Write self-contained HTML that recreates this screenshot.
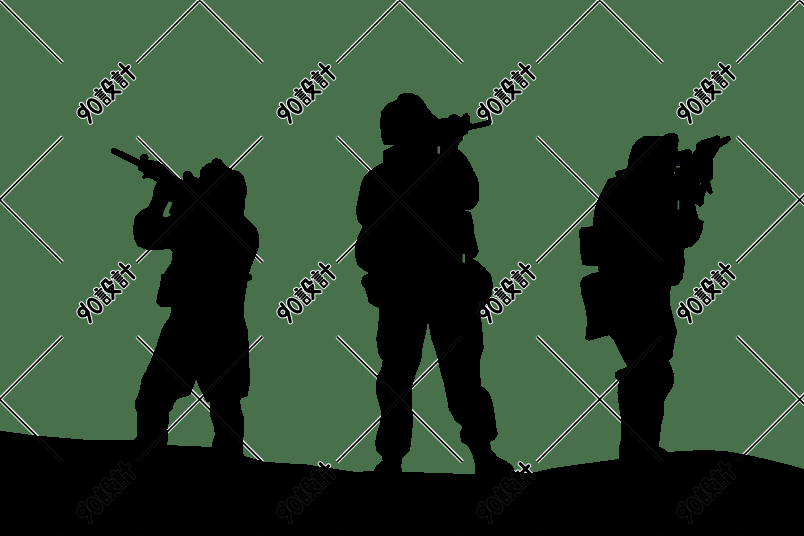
<!DOCTYPE html>
<html><head><meta charset="utf-8"><title>soldiers silhouette</title>
<style>
html,body{margin:0;padding:0;background:#47704b;}
body{width:804px;height:536px;overflow:hidden;font-family:"Liberation Sans",sans-serif;}
svg{display:block;}
</style></head><body>
<svg width="804" height="536" viewBox="0 0 804 536">
<defs>
<g id="wm" fill="none" stroke-linecap="round" stroke-linejoin="round">
<path d="M-23.4 -10.2 L-24.2 -4.5 L-24.3 0 L-29.8 8.8 M-24.1 -3.5 A4 4 0 1 0 -32.1 -3.5 A4 4 0 1 0 -24.1 -3.5 M-10.8 0.4 A4.4 7.7 0 1 0 -19.6 0.4 A4.4 7.7 0 1 0 -10.8 0.4 M3.9 -3.0 L5.8 -10.2 L10.7 -10.2 L10.7 -4.8 L13.2 -4.6 M4.0 -1.2 L11.7 -1.2 L2.6 8.3 M5 0.8 L12.6 8.4 M27 -3.5 L36.6 -3.5 M32.2 -11 L32.2 8.2" stroke="#fff" stroke-width="5.0"/>
<path d="M-7 -7.0 L1.2 -7.0 M-5.8 -4.6 L0 -4.6 M-5.8 -2.2 L0 -2.2 M-5.8 0.2 L0 0.2 M-5.6 2.7 L-0.4 2.7 L-0.4 8.0 L-5.6 8.0 Z M17 -7.0 L25.2 -7.0 M18.2 -4.6 L24 -4.6 M18.2 -2.2 L24 -2.2 M18.2 0.2 L24 0.2 M18.4 2.7 L23.6 2.7 L23.6 8.0 L18.4 8.0 Z" stroke="#fff" stroke-width="3.9"/>
<path d="M-3.4 -10.1 L-2.6 -9.7 M20.6 -10.1 L21.4 -9.7" stroke="#fff" stroke-width="5.0"/>
<path d="M-23.4 -10.2 L-24.2 -4.5 L-24.3 0 L-29.8 8.8 M-24.1 -3.5 A4 4 0 1 0 -32.1 -3.5 A4 4 0 1 0 -24.1 -3.5 M-10.8 0.4 A4.4 7.7 0 1 0 -19.6 0.4 A4.4 7.7 0 1 0 -10.8 0.4 M3.9 -3.0 L5.8 -10.2 L10.7 -10.2 L10.7 -4.8 L13.2 -4.6 M4.0 -1.2 L11.7 -1.2 L2.6 8.3 M5 0.8 L12.6 8.4 M27 -3.5 L36.6 -3.5 M32.2 -11 L32.2 8.2" stroke="#000" stroke-width="3.1"/>
<path d="M-7 -7.0 L1.2 -7.0 M-5.8 -4.6 L0 -4.6 M-5.8 -2.2 L0 -2.2 M-5.8 0.2 L0 0.2 M-5.6 2.7 L-0.4 2.7 L-0.4 8.0 L-5.6 8.0 Z M17 -7.0 L25.2 -7.0 M18.2 -4.6 L24 -4.6 M18.2 -2.2 L24 -2.2 M18.2 0.2 L24 0.2 M18.4 2.7 L23.6 2.7 L23.6 8.0 L18.4 8.0 Z" stroke="#000" stroke-width="2.0"/>
<path d="M-3.4 -10.1 L-2.6 -9.7 M20.6 -10.1 L21.4 -9.7" stroke="#000" stroke-width="3.1"/>
</g>
<g id="wmall">
<path id="xw" d="M-63.10 -62.60L62.50 63.00M-63.10 63.00L62.50 -62.60 M-63.10 137.00L62.50 262.60M-63.10 262.60L62.50 137.00 M-63.10 336.60L62.50 462.20M-63.10 462.20L62.50 336.60 M-63.10 536.20L62.50 661.80M-63.10 661.80L62.50 536.20 M136.90 -62.60L262.50 63.00M136.90 63.00L262.50 -62.60 M136.90 137.00L262.50 262.60M136.90 262.60L262.50 137.00 M136.90 336.60L262.50 462.20M136.90 462.20L262.50 336.60 M136.90 536.20L262.50 661.80M136.90 661.80L262.50 536.20 M336.90 -62.60L462.50 63.00M336.90 63.00L462.50 -62.60 M336.90 137.00L462.50 262.60M336.90 262.60L462.50 137.00 M336.90 336.60L462.50 462.20M336.90 462.20L462.50 336.60 M336.90 536.20L462.50 661.80M336.90 661.80L462.50 536.20 M536.90 -62.60L662.50 63.00M536.90 63.00L662.50 -62.60 M536.90 137.00L662.50 262.60M536.90 262.60L662.50 137.00 M536.90 336.60L662.50 462.20M536.90 462.20L662.50 336.60 M536.90 536.20L662.50 661.80M536.90 661.80L662.50 536.20 M736.90 -62.60L862.50 63.00M736.90 63.00L862.50 -62.60 M736.90 137.00L862.50 262.60M736.90 262.60L862.50 137.00 M736.90 336.60L862.50 462.20M736.90 462.20L862.50 336.60 M736.90 536.20L862.50 661.80M736.90 661.80L862.50 536.20 M936.90 -62.60L1062.50 63.00M936.90 63.00L1062.50 -62.60 M936.90 137.00L1062.50 262.60M936.90 262.60L1062.50 137.00 M936.90 336.60L1062.50 462.20M936.90 462.20L1062.50 336.60 M936.90 536.20L1062.50 661.80M936.90 661.80L1062.50 536.20" fill="none" stroke="#fff" stroke-width="3.8" stroke-linecap="butt" transform="translate(0 -0.25)"/>
<path id="xb" d="M-63.10 -62.60L62.50 63.00M-63.10 63.00L62.50 -62.60 M-63.10 137.00L62.50 262.60M-63.10 262.60L62.50 137.00 M-63.10 336.60L62.50 462.20M-63.10 462.20L62.50 336.60 M-63.10 536.20L62.50 661.80M-63.10 661.80L62.50 536.20 M136.90 -62.60L262.50 63.00M136.90 63.00L262.50 -62.60 M136.90 137.00L262.50 262.60M136.90 262.60L262.50 137.00 M136.90 336.60L262.50 462.20M136.90 462.20L262.50 336.60 M136.90 536.20L262.50 661.80M136.90 661.80L262.50 536.20 M336.90 -62.60L462.50 63.00M336.90 63.00L462.50 -62.60 M336.90 137.00L462.50 262.60M336.90 262.60L462.50 137.00 M336.90 336.60L462.50 462.20M336.90 462.20L462.50 336.60 M336.90 536.20L462.50 661.80M336.90 661.80L462.50 536.20 M536.90 -62.60L662.50 63.00M536.90 63.00L662.50 -62.60 M536.90 137.00L662.50 262.60M536.90 262.60L662.50 137.00 M536.90 336.60L662.50 462.20M536.90 462.20L662.50 336.60 M536.90 536.20L662.50 661.80M536.90 661.80L662.50 536.20 M736.90 -62.60L862.50 63.00M736.90 63.00L862.50 -62.60 M736.90 137.00L862.50 262.60M736.90 262.60L862.50 137.00 M736.90 336.60L862.50 462.20M736.90 462.20L862.50 336.60 M736.90 536.20L862.50 661.80M736.90 661.80L862.50 536.20 M936.90 -62.60L1062.50 63.00M936.90 63.00L1062.50 -62.60 M936.90 137.00L1062.50 262.60M936.90 262.60L1062.50 137.00 M936.90 336.60L1062.50 462.20M936.90 462.20L1062.50 336.60 M936.90 536.20L1062.50 661.80M936.90 661.80L1062.50 536.20" fill="none" stroke="#000" stroke-width="1.7" stroke-linecap="butt"/>
<use href="#wm" transform="translate(105.20 95.00) rotate(-45)"/>
<use href="#wm" transform="translate(105.20 294.60) rotate(-45)"/>
<use href="#wm" transform="translate(105.20 494.20) rotate(-45)"/>
<use href="#wm" transform="translate(305.20 95.00) rotate(-45)"/>
<use href="#wm" transform="translate(305.20 294.60) rotate(-45)"/>
<use href="#wm" transform="translate(305.20 494.20) rotate(-45)"/>
<use href="#wm" transform="translate(505.20 95.00) rotate(-45)"/>
<use href="#wm" transform="translate(505.20 294.60) rotate(-45)"/>
<use href="#wm" transform="translate(505.20 494.20) rotate(-45)"/>
<use href="#wm" transform="translate(705.20 95.00) rotate(-45)"/>
<use href="#wm" transform="translate(705.20 294.60) rotate(-45)"/>
<use href="#wm" transform="translate(705.20 494.20) rotate(-45)"/>
<use href="#wm" transform="translate(905.20 95.00) rotate(-45)"/>
<use href="#wm" transform="translate(905.20 294.60) rotate(-45)"/>
<use href="#wm" transform="translate(905.20 494.20) rotate(-45)"/>
</g>
</defs>
<rect width="804" height="536" fill="#47704b"/>
<use href="#wmall"/>
<g id="sil" shape-rendering="crispEdges">
<polygon points="0,430.75 37.5,435.75 82.5,439.5 133.75,439.5 167,445 211.75,447 243.75,455.75 263.5,461.5 283.5,463.25 303.5,464 318.5,466.5 336,469 356,472 373.5,470.75 402,471.75 475,474.25 515,472 530,473.25 552.5,468.25 577.5,464.5 600,461.5 618.75,459 667.5,452 685.5,450.75 708,450 728,451.5 748,455 768,459.5 788,464.5 804,469 804,536 0,536" fill="#000"/>
<polygon points="111.25,148.75 113.75,147.75 116.9,148.75 140,160 140.6,155.6 143.1,154 146.9,154.4 148.75,156.9 148.1,160 155,160.6 158.75,161.25 167.5,168.75 175,176.25 182.5,180 183.1,173.75 185.6,171.25 190,171.25 192.5,173.75 193.1,176.25 197.5,177.5 199.4,178.75 200,171.25 202.5,167.5 205,165.6 207.5,163.75 211.25,162.5 212.5,159.5 216.25,158 221.25,159.5 223.75,163.75 226.25,166.25 232.5,169.5 238.75,171.25 243.75,176.25 246.25,183.75 247.5,192.5 245,200 244.5,208.75 243.75,215 250,221.25 256.25,227.5 259.5,236.25 258.75,247.5 255,257.5 250,270 248.75,274 251.25,274 252.5,279 247.5,281.5 245.5,294 243.75,306.5 244.5,319 247.5,329 248.75,344 248.75,359 250,374 249.5,386.5 247.5,396.5 241.25,398.5 240,401.5 241.25,408 241.25,409.5 243.75,417 243.75,434.5 242.5,444.5 243.75,455.75 243.75,470 211.75,470 211.75,447 212.5,442 215,434.5 213.75,427 210.5,417 210,402 206.25,401.5 202.5,394 198.75,386.5 196.25,379 193.75,386.5 190,395.25 177.5,399 173.75,404 172.5,409.5 168.75,412 169.5,419.5 167.5,429.5 168,439.5 167,445 167,470 133.75,470 133.75,439.5 137.5,435.75 137,427 137.5,413.25 135,408.25 134.5,402 136.25,399 140,389 141.25,379 146.25,370.25 151.25,359 156.25,346.5 160,334 163.75,325.25 170,316.5 171.25,306.5 166.25,306.5 160,307 156.25,302.75 157,295.25 160,285.25 161.25,274 163.75,274 166.25,270 171.25,262.5 172.5,252.5 168.75,248.75 160,250 147.5,250 137.5,246.25 133.75,238.75 133,227.5 135,216.25 140,211.25 148.75,206.25 152.5,197.5 153.1,192.5 153.75,188.1 156.25,184.4 156.9,181.9 152.5,179.4 148.75,178.1 143.1,178.75 141.9,176.9 143.75,175 143.1,171.9 140,171.25 138.1,170 137.5,166.25 112.5,153.75 111,152.5" fill="#000"/>
<polygon points="398.75,95 405,92.5 411.25,93 417.5,95.5 423.75,101.25 427.5,107.5 432.5,113.75 438.75,118.75 447.5,117.5 452.5,113.75 457.5,115 461.25,117.5 463.75,113.75 467.5,113 469.5,116.25 469.5,122.5 472.5,123.75 487.5,120 491.25,121.25 491.25,124.5 487.5,126.25 472.5,129.5 468.75,130 467.5,133.75 463.75,135.5 462.5,140 458.75,143.75 457.5,148.75 465,155 471.25,165 473.1,170 476.9,176.25 478.75,182.5 479.1,191.25 478.75,200 476.9,205 473.75,208.1 471.25,209.4 465,210.6 470.6,211.9 471.9,216.25 473.1,222.5 474.4,228.75 473.75,231.5 476.25,241.5 478.75,251.5 476.25,256.5 472.5,259 477.5,261.5 485,267.75 491.25,275.25 493,284 492,294 486.25,304 480,310.25 481.25,319 482.5,331.5 483.75,348 480,360.5 480,373 481.25,385.5 488.75,391.75 492.5,401.75 495,415.5 496.25,426.75 498,434.25 495,439.25 490,441.75 491.25,449.25 497.5,456.75 507.5,461.75 512.5,465.5 515,471.75 515,485 475,485 475,474.25 475,465.5 472.5,455.5 467.5,445.5 461.25,441.75 459.5,433 462.5,426.75 455,420.5 448.75,409.25 446.25,395.5 443.75,383 440,370.5 437.5,358 434.5,348 431.25,339 430,331.5 428,321.5 426.25,331.5 423.75,341.5 422.5,348 421.25,360.5 416.25,373 412.5,385.5 412,398 412.5,413 412.5,428 411.25,440.5 410,450.5 402.5,458 401.25,465.5 402,471.75 402,485 373.75,485 373.75,470.5 376.25,465.5 382.5,460.5 381.25,455.5 376.25,450.5 375,443 377,433 380,423 381.25,413 378.75,403 376.25,394.25 375.75,385.5 377.5,375.5 381.25,369.25 382.5,360.5 378.75,355.5 377.5,348 376.25,339 377.5,331.5 378.75,319 378.75,307.75 375,306.5 368.75,302.75 367.5,296.5 365,289 360.5,282.75 362.5,276.5 368.75,272.75 363.75,270.25 357.5,265.25 355,256.5 355,246.5 357.5,236.5 362.5,226.5 357.5,220.25 356.25,214 356.25,207.5 358.75,195 361.25,182.5 365,175 372.5,168.75 382.5,162.5 382.5,155 383.75,150.5 393.75,145.5 383.75,145 381.25,137.5 380,122.5 381.25,111.25 387.5,103.75 396.25,100" fill="#000"/>
<polygon points="627.5,166.25 628.75,157.5 632.5,146.25 637.5,140 643.75,136.25 655,135.5 662.5,136.25 666.25,133.75 673.75,132.5 678,135 678.75,141.25 677.5,147.5 678.75,151.25 682.5,150 687.5,148.75 691.25,150 692.5,153.75 696.25,148.75 696.25,143.75 701.25,140.5 708.75,138 713.75,137 716.25,135 719.5,136.25 720.5,138.75 726.25,136.25 730,136.25 731.25,139.5 726.25,143.75 720,147.5 716.25,153.75 712.5,160 713,170 712.5,178.75 710,181.25 711.25,186.25 713,192.5 710,195 706.25,191.25 703.75,197.5 703.75,203.75 700,207 695,203.75 696.25,210 698.75,218.75 703.75,221.25 702.5,230 698.75,240 692.5,246.25 683.75,248.75 683.75,254 685,261.5 683.75,271.5 682.5,279 677.5,285.25 671.25,286.5 669.5,294 670,304 672.5,314 675,324 677.5,332.75 675.5,337.75 673.75,346.5 672.5,356.5 668.75,360.25 671.25,366.5 673.75,374 674.5,381.5 672.5,387.5 667.5,395 663.75,402.5 663.75,415 661.25,425 660,437.5 658.75,446.25 663.75,448.75 667.5,452 667.5,470 619.5,470 619.5,458.75 618.75,447.5 621.25,437.5 621.25,420 618.75,405 617.5,392.5 618.75,381.5 615.5,377.75 615,372.75 618.75,370.25 627.5,366.5 623.75,360.25 618.75,350.25 613.75,340.25 608.75,335.25 600,337.75 588.75,341 585,339 586.25,331.5 587,319 585,306.5 581.25,294 580,282.75 582.5,277.75 591.25,273.5 598.75,272 597.5,266.5 582.5,265.25 580.5,254 580,242.5 578.75,231.25 581.25,227.5 592.5,226.25 593,220 594.5,210 596.25,202.5 600,195 603.75,187.5 607.5,180 611.25,178 616.25,176.25 614.5,173 616.25,170.75 620,170 626.25,168.75" fill="#000"/>
</g>
<g opacity="0.06"><use href="#xw"/><use href="#xb"/></g>
<g opacity="0.09"><use href="#wm" transform="translate(105.20 95.00) rotate(-45)"/>
<use href="#wm" transform="translate(105.20 294.60) rotate(-45)"/>
<use href="#wm" transform="translate(105.20 494.20) rotate(-45)"/>
<use href="#wm" transform="translate(305.20 95.00) rotate(-45)"/>
<use href="#wm" transform="translate(305.20 294.60) rotate(-45)"/>
<use href="#wm" transform="translate(305.20 494.20) rotate(-45)"/>
<use href="#wm" transform="translate(505.20 95.00) rotate(-45)"/>
<use href="#wm" transform="translate(505.20 294.60) rotate(-45)"/>
<use href="#wm" transform="translate(505.20 494.20) rotate(-45)"/>
<use href="#wm" transform="translate(705.20 95.00) rotate(-45)"/>
<use href="#wm" transform="translate(705.20 294.60) rotate(-45)"/>
<use href="#wm" transform="translate(705.20 494.20) rotate(-45)"/>
<use href="#wm" transform="translate(905.20 95.00) rotate(-45)"/>
<use href="#wm" transform="translate(905.20 294.60) rotate(-45)"/>
<use href="#wm" transform="translate(905.20 494.20) rotate(-45)"/></g>
<g id="gaps">
<polygon points="168.75,201.25 172.5,202.5 168.75,212.5 171.25,215 166.25,217.5 162.5,216.25 163.75,211.25" fill="#47704b"/><polygon points="437.5,146.25 440,146.25 440,153.75 437.5,153.75" fill="#47704b"/><polygon points="462.5,254 465,254 465,262.75 462.5,262.75" fill="#47704b"/><polygon points="676,166 680,166 680,167.5 676,167.5" fill="#47704b"/><polygon points="674,171.9 675,171.9 675,173.8 674,173.8" fill="#47704b"/><polygon points="700,183.1 701,183.1 701,184.8 700,184.8" fill="#47704b"/><polygon points="677.6,200.5 679.2,200.5 679.2,209.5 677.6,209.5" fill="#47704b"/>
</g>
</svg>
</body></html>
